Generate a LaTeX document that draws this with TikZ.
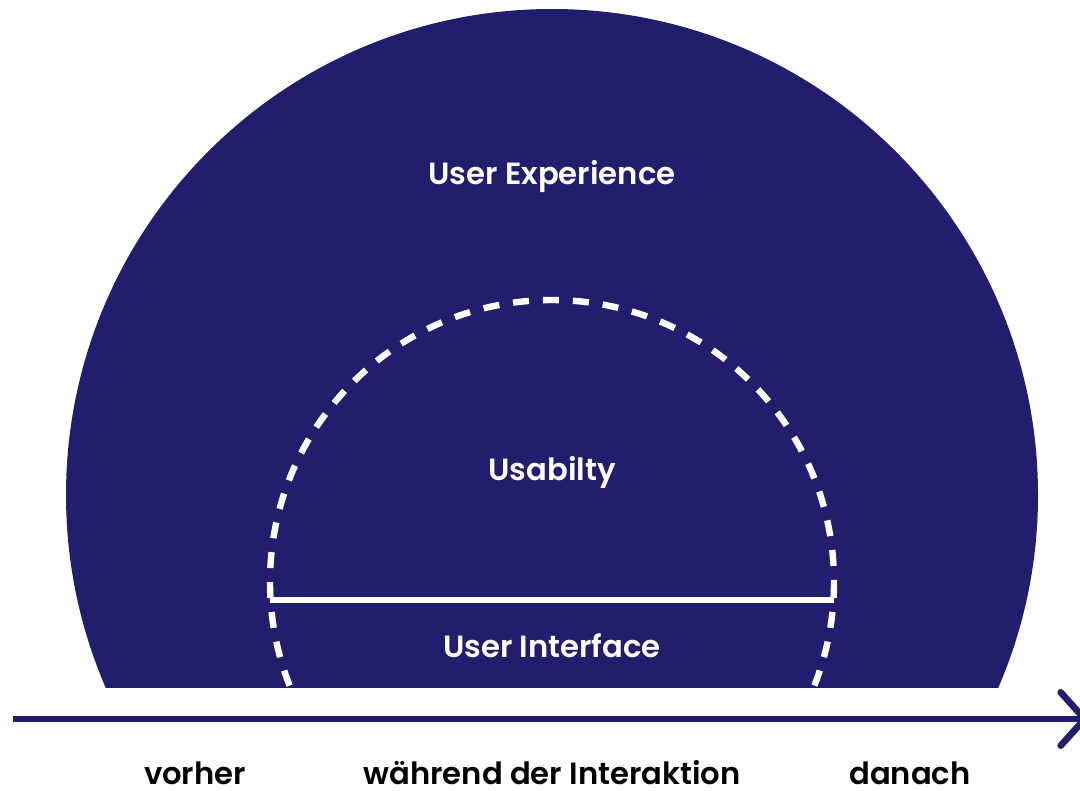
\documentclass[tikz,border=0pt]{standalone}
\usepackage{fontspec}
\setmainfont{Poppins}[BoldFont={Poppins SemiBold}]
\usetikzlibrary{arrows.meta}
\definecolor{navy}{RGB}{33,30,110}

\tikzset{
  inlabel/.style={text=white,font=\bfseries\fontsize{23}{27}\selectfont},
  timelabel/.style={text=black,inner sep=0pt,font=\bfseries\fontsize{23}{27}\selectfont},
  dashring/.style={white,line width=4.8pt,dash pattern=on 12pt off 10.5pt},
  axis/.style={navy,line width=5pt,-{Straight Barb[length=18pt,width=40pt,round]}}
}

\begin{document}
\begin{tikzpicture}[x=0.75pt,y=-0.75pt]
\useasboundingbox (0,0) rectangle (1080,790);

% half circles, cut off at the base line
\begin{scope}
\clip (0,0) rectangle (1080,687);
\fill[navy] (552,495) circle (486);
\draw[dashring] (552,582) circle (282);
\end{scope}
\draw[white,line width=4.5pt] (270,600) -- (834,600);

\node[inlabel] (ux) at (552,177) {User Experience};
\node[inlabel] (usab) at (552,472) {Usabilty};
\node[inlabel] (ui) at (552,646) {User Interface};

% time axis
\coordinate (start) at (13,719);
\coordinate (end) at (1088,719);
\draw[axis] (start) -- (end);

\node[timelabel] (before) at (195,773) {vorher};
\node[timelabel] (during) at (552,773) {während der Interaktion};
\node[timelabel] (after) at (910,773) {danach};
\end{tikzpicture}
\end{document}
